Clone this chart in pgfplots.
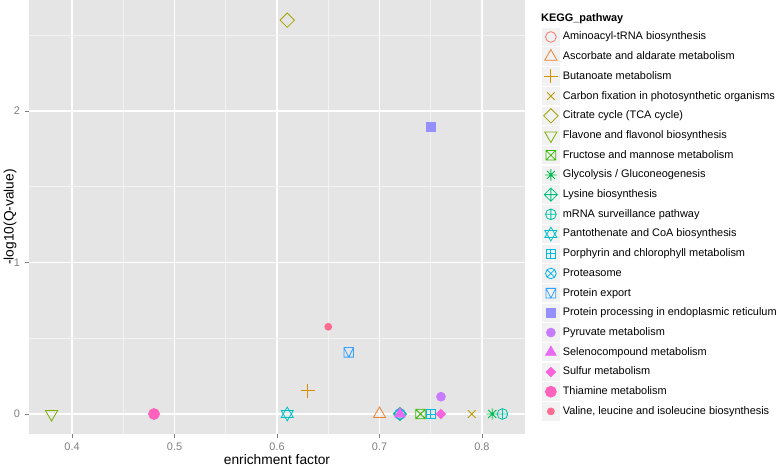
\documentclass[border=0pt]{standalone}
\usepackage{pgfplots}
\pgfplotsset{compat=1.18}
\usepackage{fontspec}
\setmainfont{Liberation Sans}

\definecolor{c01}{HTML}{F8766D}
\definecolor{c02}{HTML}{EA8331}
\definecolor{c03}{HTML}{D89000}
\definecolor{c04}{HTML}{C09B00}
\definecolor{c05}{HTML}{A3A500}
\definecolor{c06}{HTML}{7CAE00}
\definecolor{c07}{HTML}{39B600}
\definecolor{c08}{HTML}{00BB4E}
\definecolor{c09}{HTML}{00BF7D}
\definecolor{c10}{HTML}{00C1A3}
\definecolor{c11}{HTML}{00BFC4}
\definecolor{c12}{HTML}{00BAE0}
\definecolor{c13}{HTML}{00B0F6}
\definecolor{c14}{HTML}{35A2FF}
\definecolor{c15}{HTML}{9590FF}
\definecolor{c16}{HTML}{C77CFF}
\definecolor{c17}{HTML}{E76BF3}
\definecolor{c18}{HTML}{FA62DB}
\definecolor{c19}{HTML}{FF62BC}
\definecolor{c20}{HTML}{FF6C91}
\definecolor{panelbg}{HTML}{E5E5E5}
\definecolor{minorgrid}{HTML}{F2F2F2}
\definecolor{keybg}{HTML}{F2F2F2}
\definecolor{ticktext}{HTML}{7F7F7F}

% custom ggplot-like marks
\pgfdeclareplotmark{sqx}{%
  \pgfpathrectangle{\pgfqpoint{-\pgfplotmarksize}{-\pgfplotmarksize}}{\pgfqpoint{2\pgfplotmarksize}{2\pgfplotmarksize}}%
  \pgfpathmoveto{\pgfqpoint{-\pgfplotmarksize}{-\pgfplotmarksize}}\pgfpathlineto{\pgfqpoint{\pgfplotmarksize}{\pgfplotmarksize}}%
  \pgfpathmoveto{\pgfqpoint{-\pgfplotmarksize}{\pgfplotmarksize}}\pgfpathlineto{\pgfqpoint{\pgfplotmarksize}{-\pgfplotmarksize}}%
  \pgfusepathqstroke}
\pgfdeclareplotmark{sqplus}{%
  \pgfpathrectangle{\pgfqpoint{-\pgfplotmarksize}{-\pgfplotmarksize}}{\pgfqpoint{2\pgfplotmarksize}{2\pgfplotmarksize}}%
  \pgfpathmoveto{\pgfqpoint{0pt}{-\pgfplotmarksize}}\pgfpathlineto{\pgfqpoint{0pt}{\pgfplotmarksize}}%
  \pgfpathmoveto{\pgfqpoint{-\pgfplotmarksize}{0pt}}\pgfpathlineto{\pgfqpoint{\pgfplotmarksize}{0pt}}%
  \pgfusepathqstroke}
\pgfdeclareplotmark{sqtri}{%
  \pgfpathrectangle{\pgfqpoint{-\pgfplotmarksize}{-\pgfplotmarksize}}{\pgfqpoint{2\pgfplotmarksize}{2\pgfplotmarksize}}%
  \pgfpathmoveto{\pgfqpoint{-\pgfplotmarksize}{\pgfplotmarksize}}\pgfpathlineto{\pgfqpoint{0pt}{-\pgfplotmarksize}}\pgfpathlineto{\pgfqpoint{\pgfplotmarksize}{\pgfplotmarksize}}%
  \pgfusepathqstroke}
\pgfdeclareplotmark{dia}{%
  \pgfpathmoveto{\pgfqpoint{0pt}{\pgfplotmarksize}}\pgfpathlineto{\pgfqpoint{\pgfplotmarksize}{0pt}}%
  \pgfpathlineto{\pgfqpoint{0pt}{-\pgfplotmarksize}}\pgfpathlineto{\pgfqpoint{-\pgfplotmarksize}{0pt}}\pgfpathclose
  \pgfusepathqstroke}
\pgfdeclareplotmark{dia*}{%
  \pgfpathmoveto{\pgfqpoint{0pt}{\pgfplotmarksize}}\pgfpathlineto{\pgfqpoint{\pgfplotmarksize}{0pt}}%
  \pgfpathlineto{\pgfqpoint{0pt}{-\pgfplotmarksize}}\pgfpathlineto{\pgfqpoint{-\pgfplotmarksize}{0pt}}\pgfpathclose
  \pgfusepathqfillstroke}
\pgfdeclareplotmark{diaplus}{%
  \pgfpathmoveto{\pgfqpoint{0pt}{\pgfplotmarksize}}\pgfpathlineto{\pgfqpoint{\pgfplotmarksize}{0pt}}%
  \pgfpathlineto{\pgfqpoint{0pt}{-\pgfplotmarksize}}\pgfpathlineto{\pgfqpoint{-\pgfplotmarksize}{0pt}}\pgfpathclose
  \pgfpathmoveto{\pgfqpoint{0pt}{-\pgfplotmarksize}}\pgfpathlineto{\pgfqpoint{0pt}{\pgfplotmarksize}}%
  \pgfpathmoveto{\pgfqpoint{-\pgfplotmarksize}{0pt}}\pgfpathlineto{\pgfqpoint{\pgfplotmarksize}{0pt}}%
  \pgfusepathqstroke}
\pgfdeclareplotmark{david}{%
  \pgfpathmoveto{\pgfqpoint{0pt}{\pgfplotmarksize}}%
  \pgfpathlineto{\pgfqpointpolar{210}{\pgfplotmarksize}}\pgfpathlineto{\pgfqpointpolar{330}{\pgfplotmarksize}}\pgfpathclose
  \pgfpathmoveto{\pgfqpoint{0pt}{-\pgfplotmarksize}}%
  \pgfpathlineto{\pgfqpointpolar{150}{\pgfplotmarksize}}\pgfpathlineto{\pgfqpointpolar{30}{\pgfplotmarksize}}\pgfpathclose
  \pgfusepathqstroke}
\pgfdeclareplotmark{ast8}{%
  \pgfpathmoveto{\pgfqpoint{0pt}{-\pgfplotmarksize}}\pgfpathlineto{\pgfqpoint{0pt}{\pgfplotmarksize}}%
  \pgfpathmoveto{\pgfqpoint{-\pgfplotmarksize}{0pt}}\pgfpathlineto{\pgfqpoint{\pgfplotmarksize}{0pt}}%
  \pgfpathmoveto{\pgfqpointpolar{45}{\pgfplotmarksize}}\pgfpathlineto{\pgfqpointpolar{225}{\pgfplotmarksize}}%
  \pgfpathmoveto{\pgfqpointpolar{135}{\pgfplotmarksize}}\pgfpathlineto{\pgfqpointpolar{315}{\pgfplotmarksize}}%
  \pgfusepathqstroke}
\pgfdeclareplotmark{tridown}{%
  \pgfpathmoveto{\pgfqpoint{0pt}{-\pgfplotmarksize}}%
  \pgfpathlineto{\pgfqpointpolar{150}{\pgfplotmarksize}}\pgfpathlineto{\pgfqpointpolar{30}{\pgfplotmarksize}}\pgfpathclose
  \pgfusepathqstroke}

\pgfplotsset{
  keybox/.style={legend image code/.code={%
    \fill[keybg,draw=none] (0pt,-6.9pt) rectangle (13.5pt,6.9pt);
    \draw[mark repeat=2,mark phase=2] plot coordinates {(0pt,0pt)(6.75pt,0pt)(13.5pt,0pt)};}},
  pt/.style={only marks, line width=0.6pt, mark options={solid}, keybox},
}

\begin{document}
\begin{tikzpicture}
\begin{axis}[
  at={(0,0)}, anchor=south west,
  scale only axis, width=372pt, height=325.5pt,
  xmin=0.358, xmax=0.842, ymin=-0.132, ymax=2.733,
  xtick={0.4,0.5,0.6,0.7,0.8}, ytick={0,1,2},
  minor xtick={0.45,0.55,0.65,0.75},
  minor ytick={0.5,1.5,2.5},
  xticklabels={0.4,0.5,0.6,0.7,0.8},
  yticklabels={0,1,2},
  xtick pos=bottom, ytick pos=left,
  axis background/.style={fill=panelbg},
  axis line style={draw=none},
  grid=both,
  major grid style={white, line width=0.9pt},
  minor grid style={minorgrid, line width=0.45pt},
  tick align=outside, major tick length=3.2pt, minor tick length=0pt,
  tick style={ticktext, line width=0.6pt},
  every tick label/.append style={font=\fontsize{8.2}{9.8}\selectfont, text=ticktext},
  /pgf/number format/assume math mode=true,
  xlabel={enrichment factor}, ylabel={-log10(Q-value)},
  every axis x label/.style={at={(rel axis cs:0.5,0)}, anchor=base, yshift=-23.25pt, font=\fontsize{10.3}{12}\selectfont},
  every axis y label/.style={at={(rel axis cs:-0.0383,0.5)}, rotate=90, anchor=center, font=\fontsize{10.3}{12}\selectfont},
  legend style={at={(rel axis cs:1.034,0.936)}, anchor=north west, draw=none, fill=none,
    inner sep=0pt, outer sep=0pt, row sep=0.98pt, column sep=0pt,
    font=\fontsize{8.2}{9.8}\selectfont,
    nodes={inner sep=2.2pt, anchor=west}},
  legend cell align=left,
  clip=false,
]
\addplot[pt, c01, mark=o, mark size=4pt] coordinates {(0.72,0)};
\addlegendentry{Aminoacyl-tRNA biosynthesis}
\addplot[pt, c02, mark=triangle, mark size=5.3pt] coordinates {(0.70,0)};
\addlegendentry{Ascorbate and aldarate metabolism}
\addplot[pt, c03, mark=+, mark size=5.2pt] coordinates {(0.63,0.154)};
\addlegendentry{Butanoate metabolism}
\addplot[pt, c04, mark=x, mark size=4pt] coordinates {(0.79,0)};
\addlegendentry{Carbon fixation in photosynthetic organisms}
\addplot[pt, c05, mark=dia, mark size=5.4pt] coordinates {(0.61,2.60)};
\addlegendentry{Citrate cycle (TCA cycle)}
\addplot[pt, c06, mark=tridown, mark size=5.3pt] coordinates {(0.38,0)};
\addlegendentry{Flavone and flavonol biosynthesis}
\addplot[pt, c07, mark=sqx, mark size=3.6pt] coordinates {(0.74,0)};
\addlegendentry{Fructose and mannose metabolism}
\addplot[pt, c08, mark=ast8, mark size=4.3pt] coordinates {(0.81,0)};
\addlegendentry{Glycolysis / Gluconeogenesis}
\addplot[pt, c09, mark=diaplus, mark size=5pt] coordinates {(0.72,0)};
\addlegendentry{Lysine biosynthesis}
\addplot[pt, c10, mark=oplus, mark size=4pt] coordinates {(0.82,0)};
\addlegendentry{mRNA surveillance pathway}
\addplot[pt, c11, mark=david, mark size=5.2pt] coordinates {(0.61,0)};
\addlegendentry{Pantothenate and CoA biosynthesis}
\addplot[pt, c12, mark=sqplus, mark size=3.6pt] coordinates {(0.75,0)};
\addlegendentry{Porphyrin and chlorophyll metabolism}
\addplot[pt, c13, mark=otimes, mark size=4pt] coordinates {(0.72,0)};
\addlegendentry{Proteasome}
\addplot[pt, c14, mark=sqtri, mark size=3.6pt] coordinates {(0.67,0.407)};
\addlegendentry{Protein export}
\addplot[pt, c15, mark=square*, mark size=3.3pt] coordinates {(0.75,1.894)};
\addlegendentry{Protein processing in endoplasmic reticulum}
\addplot[pt, c16, mark=*, mark size=3.3pt] coordinates {(0.76,0.114)};
\addlegendentry{Pyruvate metabolism}
\addplot[pt, c17, mark=triangle*, mark size=4.6pt] coordinates {(0.72,0)};
\addlegendentry{Selenocompound metabolism}
\addplot[pt, c18, mark=dia*, mark size=3.5pt] coordinates {(0.76,0)};
\addlegendentry{Sulfur metabolism}
\addplot[pt, c19, mark=*, mark size=4.1pt] coordinates {(0.48,0)};
\addlegendentry{Thiamine metabolism}
\addplot[pt, c20, mark=*, mark size=2.6pt] coordinates {(0.65,0.576)};
\addlegendentry{Valine, leucine and isoleucine biosynthesis}
\node[anchor=base west, inner sep=0pt, font=\fontsize{8.2}{9.8}\selectfont\bfseries] at (rel axis cs:1.032,0.950) {KEGG\_pathway};
\end{axis}
\pgfresetboundingbox
\path (-21.75pt,-24pt) rectangle (561.75pt,325.5pt);
\end{tikzpicture}
\end{document}
